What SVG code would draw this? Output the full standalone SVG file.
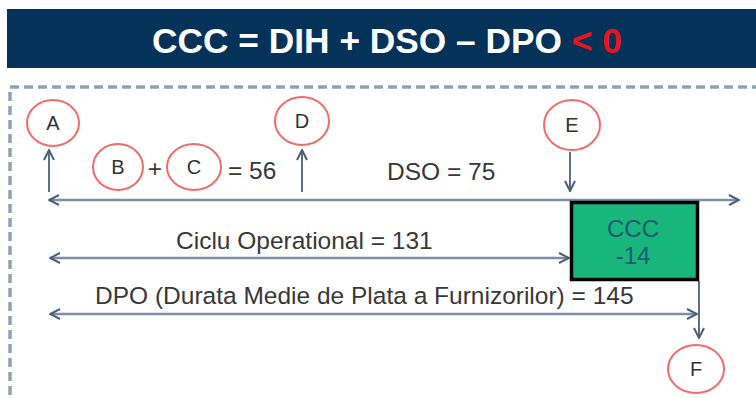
<svg xmlns="http://www.w3.org/2000/svg" width="756" height="398" viewBox="0 0 756 398">
<defs>
<style>
.t{font-family:"Liberation Sans",Arial,sans-serif;fill:#383838;font-size:24.5px}
.lbl{font-family:"Liberation Sans",Arial,sans-serif;fill:#333;font-size:20px;text-anchor:middle}
.circ{fill:#fff;stroke:#f26b6b;stroke-width:2}
.ln{stroke:#7a8ea8;stroke-width:2.6;fill:none}
.vl{stroke:#4d5f78;stroke-width:1.8;fill:none}
.box{font-family:"Liberation Sans",Arial,sans-serif;font-size:24px;fill:#1d5a78;text-anchor:middle}
</style>
<marker id="ah" viewBox="0 0 12 12" refX="11" refY="6" markerWidth="12" markerHeight="12" markerUnits="userSpaceOnUse" orient="auto-start-reverse">
<path d="M1,1 L11,6 L1,11" fill="none" stroke="#4d5f78" stroke-width="2"/>
</marker>
</defs>
<rect width="756" height="398" fill="#fff"/>
<g id="header">
<rect x="7" y="9" width="760" height="59" fill="#053259"/>
<text x="387" y="53" text-anchor="middle" font-family="'Liberation Sans',Arial,sans-serif" font-size="35.3" font-weight="bold" fill="#fff">CCC = DIH + DSO – DPO <tspan fill="#e8141b">&lt; 0</tspan></text>
</g>
<rect x="10" y="87" width="780" height="340" fill="none" stroke="#8fa3b8" stroke-width="3.5" stroke-dasharray="9,5"/>
<g id="connectors">
<line class="ln" x1="49" y1="200" x2="739" y2="200" marker-start="url(#ah)" marker-end="url(#ah)"/>
<line class="ln" x1="50" y1="258" x2="569" y2="258" marker-start="url(#ah)" marker-end="url(#ah)"/>
<line class="ln" x1="50" y1="314" x2="697" y2="314" marker-start="url(#ah)" marker-end="url(#ah)"/>
<line class="vl" x1="49" y1="192" x2="49" y2="150" marker-end="url(#ah)"/>
<line class="vl" x1="302" y1="192" x2="302" y2="150" marker-end="url(#ah)"/>
<line class="vl" x1="570" y1="152" x2="570" y2="191" marker-end="url(#ah)"/>
<line class="vl" x1="699" y1="281" x2="699" y2="338" marker-end="url(#ah)"/>
</g>
<g id="ccc">
<rect x="571.5" y="202.5" width="126" height="77" fill="#18b67a" stroke="#000" stroke-width="3.5"/>
<text class="box" x="633" y="237">CCC</text>
<text class="box" x="633" y="264">-14</text>
</g>
<g id="A"><ellipse class="circ" cx="53" cy="123" rx="26" ry="23"/><text class="lbl" x="53" y="130">A</text></g>
<g id="B"><ellipse class="circ" cx="118" cy="167" rx="25" ry="23"/><text class="lbl" x="118" y="174">B</text></g>
<g id="C"><ellipse class="circ" cx="194" cy="167" rx="27" ry="23"/><text class="lbl" x="194" y="174">C</text></g>
<g id="D"><ellipse class="circ" cx="302" cy="121" rx="27" ry="24"/><text class="lbl" x="302" y="128">D</text></g>
<g id="E"><ellipse class="circ" cx="572" cy="125" rx="28" ry="25"/><text class="lbl" x="572" y="132">E</text></g>
<g id="F"><ellipse class="circ" cx="696" cy="369" rx="28" ry="24"/><text class="lbl" x="696" y="376">F</text></g>
<g id="texts">
<text class="t" x="155" y="177" text-anchor="middle" font-size="20">+</text>
<text class="t" x="228" y="179">= 56</text>
<text class="t" x="387" y="180">DSO = 75</text>
<text class="t" x="176" y="249">Ciclu Operational = 131</text>
<text class="t" x="95" y="304">DPO (Durata Medie de Plata a Furnizorilor) = 145</text>
</g>
</svg>
